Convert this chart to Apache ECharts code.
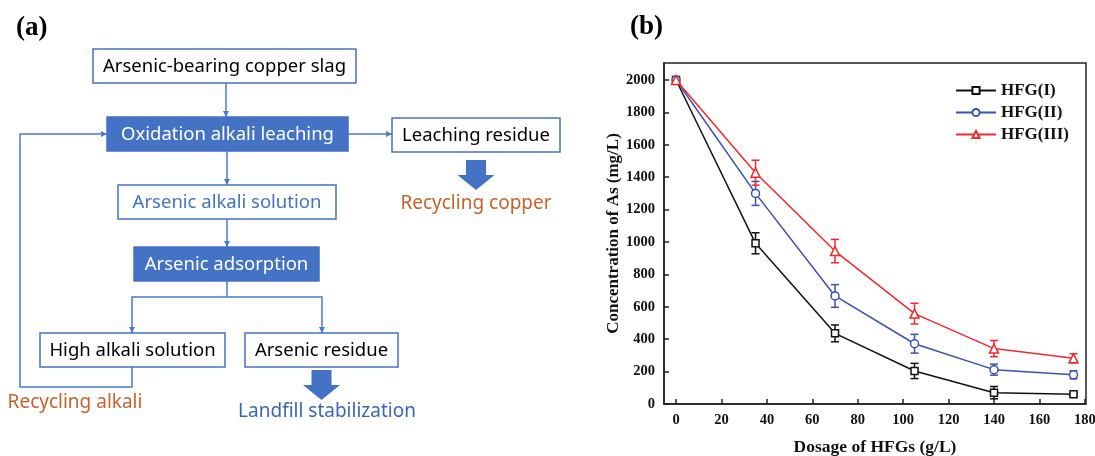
<!DOCTYPE html>
<html><head><meta charset="utf-8">
<script src="https://cdn.jsdelivr.net/npm/echarts@6/dist/echarts.min.js"></script>
<style>html,body{margin:0;padding:0;background:#fff}#c{width:1095px;height:456px}</style>
</head><body><div id="c"></div>
<script>
// ---- data (panel b) ----
const dosage = [0, 35, 70, 105, 140, 175];
const hfg1 = [2000, 992, 436, 204, 70, 60];
const hfg1Err = [0, 65, 52, 47, 38, 10];
const hfg2 = [2000, 1300, 667, 372, 212, 180];
const hfg2Err = [0, 74, 70, 58, 34, 25];
const hfg3 = [2000, 1428, 944, 558, 342, 282];
const hfg3Err = [0, 77, 72, 64, 50, 28];
const seriesNames = ['HFG(I)', 'HFG(II)', 'HFG(III)'];
const xTicks = [0, 20, 40, 60, 80, 100, 120, 140, 160, 180];
const yTicks = [0, 200, 400, 600, 800, 1000, 1200, 1400, 1600, 1800, 2000];
const xTitle = 'Dosage of HFGs (g/L)';
const yTitle = 'Concentration of As (mg/L)';
// ---- flowchart texts (panel a) ----
const flowLabels = ['Arsenic-bearing copper slag', 'Oxidation alkali leaching', 'Leaching residue',
  'Arsenic alkali solution', 'Arsenic adsorption', 'High alkali solution', 'Arsenic residue'];
const outcomeLabels = ['Recycling copper', 'Recycling alkali', 'Landfill stabilization'];
const panelLabels = ['(a)', '(b)'];

const BLUE = '#4472C4', LINE = '#4A7BD0', ORANGE = '#C9622A', DARKBLUE = '#3A66B8';
const SANS = '"Noto Sans", "Open Sans", sans-serif';
const SERIF = '"Liberation Serif", "Times New Roman", serif';
const g = [];
function box(x, y, w, h, text, filled, color) {
  g.push({type: 'rect', shape: {x, y, width: w, height: h},
    style: {fill: filled ? BLUE : '#fff', stroke: BLUE, lineWidth: 1.5}});
  g.push({type: 'text', style: {text, x: x + w / 2, y: y + h / 2 + 1, align: 'center', verticalAlign: 'middle',
    font: '18.5px ' + SANS, fill: color}});
}
function line(points) {
  g.push({type: 'polyline', shape: {points}, style: {stroke: LINE, lineWidth: 1.5, fill: null}});
}
function head(x, y, dir) {
  const L = 6, W = 3; let pts;
  if (dir === 'down') pts = [[x - W, y - L], [x + W, y - L], [x, y]];
  else pts = [[x - L, y - W], [x - L, y + W], [x, y]];
  g.push({type: 'polygon', shape: {points: pts}, style: {fill: LINE}});
}
function bigArrow(cx, y0, y1) {
  const sw = 10, hw = 18.5, mid = y0 + (y1 - y0) * 0.5;
  g.push({type: 'polygon', shape: {points: [[cx - sw, y0], [cx + sw, y0], [cx + sw, mid], [cx + hw, mid],
    [cx, y1], [cx - hw, mid], [cx - sw, mid]]}, style: {fill: BLUE}});
}
function label(text, x, y, color, font, align) {
  g.push({type: 'text', style: {text, x, y, align: align || 'center', verticalAlign: 'middle', font, fill: color}});
}
// connectors
line([[226, 83], [226, 117]]); head(226, 117, 'down');
line([[348, 134], [392, 134]]); head(392, 134, 'right');
line([[227, 151], [227, 185]]); head(227, 185, 'down');
line([[227, 219], [227, 247]]); head(227, 247, 'down');
line([[227, 281], [227, 297]]);
line([[132, 333], [132, 297], [322, 297], [322, 333]]); head(132, 333, 'down'); head(322, 333, 'down');
line([[132, 367], [132, 387], [20, 387], [20, 134], [107, 134]]); head(107, 134, 'right');
// boxes
box(93, 49, 263, 34, flowLabels[0], false, '#000');
box(107, 117, 241, 34, flowLabels[1], true, '#fff');
box(392, 118, 168, 34, flowLabels[2], false, '#000');
box(118, 185, 218, 34, flowLabels[3], false, BLUE);
box(134, 247, 185, 34, flowLabels[4], true, '#fff');
box(40, 333, 185, 34, flowLabels[5], false, '#000');
box(245, 333, 153, 34, flowLabels[6], false, '#000');
bigArrow(476, 160, 190);
bigArrow(321.5, 370, 400);
label(outcomeLabels[0], 476, 204, ORANGE, '19px ' + SANS);
label(outcomeLabels[1], 75, 403, ORANGE, '19px ' + SANS);
label(outcomeLabels[2], 327, 412, DARKBLUE, '19px ' + SANS);
label(panelLabels[0], 16, 28, '#000', 'bold 27px ' + SERIF, 'left');
label(panelLabels[1], 630, 27, '#000', 'bold 27px ' + SERIF, 'left');

const colors = ['#111111', '#3B50B4', '#F2282A'];
const symbols = ['rect', 'circle', 'triangle'];
const sizes = [7, 8, 9];
const vals = [hfg1, hfg2, hfg3], errs = [hfg1Err, hfg2Err, hfg3Err];
const series = [];
vals.forEach((v, k) => {
  series.push({type: 'custom', name: seriesNames[k] + ' err', silent: true, z: 3 + k,
    data: dosage.map((d, i) => [d, v[i], errs[k][i]]),
    renderItem(params, api) {
      const x = api.value(0), y = api.value(1), e = api.value(2);
      if (!e) return {type: 'group', children: []};
      const top = api.coord([x, y + e]), bot = api.coord([x, y - e]);
      const st = {stroke: colors[k], lineWidth: 1.5};
      return {type: 'group', children: [
        {type: 'line', shape: {x1: top[0], y1: top[1], x2: bot[0], y2: bot[1]}, style: st},
        {type: 'line', shape: {x1: top[0] - 4, y1: top[1], x2: top[0] + 4, y2: top[1]}, style: st},
        {type: 'line', shape: {x1: bot[0] - 4, y1: bot[1], x2: bot[0] + 4, y2: bot[1]}, style: st}]};
    }});
  series.push({type: 'line', name: seriesNames[k], z: 4 + k, data: dosage.map((d, i) => [d, v[i]]),
    symbol: symbols[k], symbolSize: sizes[k], showAllSymbol: true,
    lineStyle: {color: colors[k], width: 1.5},
    itemStyle: {color: '#fff', borderColor: colors[k], borderWidth: 1.5}});
});

const chart = echarts.init(document.getElementById('c'), null, {renderer: 'canvas'});
const axisText = {fontFamily: SERIF, fontWeight: 'bold', fontSize: 14.5, color: '#111', formatter: v => String(v)};
chart.setOption({
  animation: false,
  color: colors,
  graphic: g,
  grid: {left: 664, top: 63, width: 422, height: 341, outerBoundsMode: 'none', containLabel: false,
    show: true, borderColor: '#222', borderWidth: 1.5, backgroundColor: 'transparent'},
  legend: {data: seriesNames, orient: 'vertical', left: 950, top: 77, itemWidth: 40, itemHeight: 9, itemGap: 5,
    textStyle: {fontFamily: SERIF, fontWeight: 'bold', fontSize: 17, color: '#111'}},
  xAxis: {type: 'value', min: -5.3, max: 180.5, name: xTitle, nameLocation: 'middle', nameGap: 34,
    nameTextStyle: {fontFamily: SERIF, fontWeight: 'bold', fontSize: 17.5, color: '#111'},
    splitLine: {show: false},
    axisLine: {onZero: false, lineStyle: {color: '#222', width: 1.5}},
    axisTick: {inside: true, length: 5, lineStyle: {color: '#222', width: 1.5}, customValues: xTicks},
    axisLabel: Object.assign({margin: 9, customValues: xTicks}, axisText)},
  yAxis: {type: 'value', min: 0, max: 2105, name: yTitle, nameLocation: 'middle', nameGap: 38,
    nameTextStyle: {fontFamily: SERIF, fontWeight: 'bold', fontSize: 17, color: '#111'},
    splitLine: {show: false},
    axisLine: {onZero: false, lineStyle: {color: '#222', width: 1.5}},
    axisTick: {inside: true, length: 5, lineStyle: {color: '#222', width: 1.5}, customValues: yTicks},
    axisLabel: Object.assign({margin: 9, customValues: yTicks}, axisText)},
  series
});
</script></body></html>
